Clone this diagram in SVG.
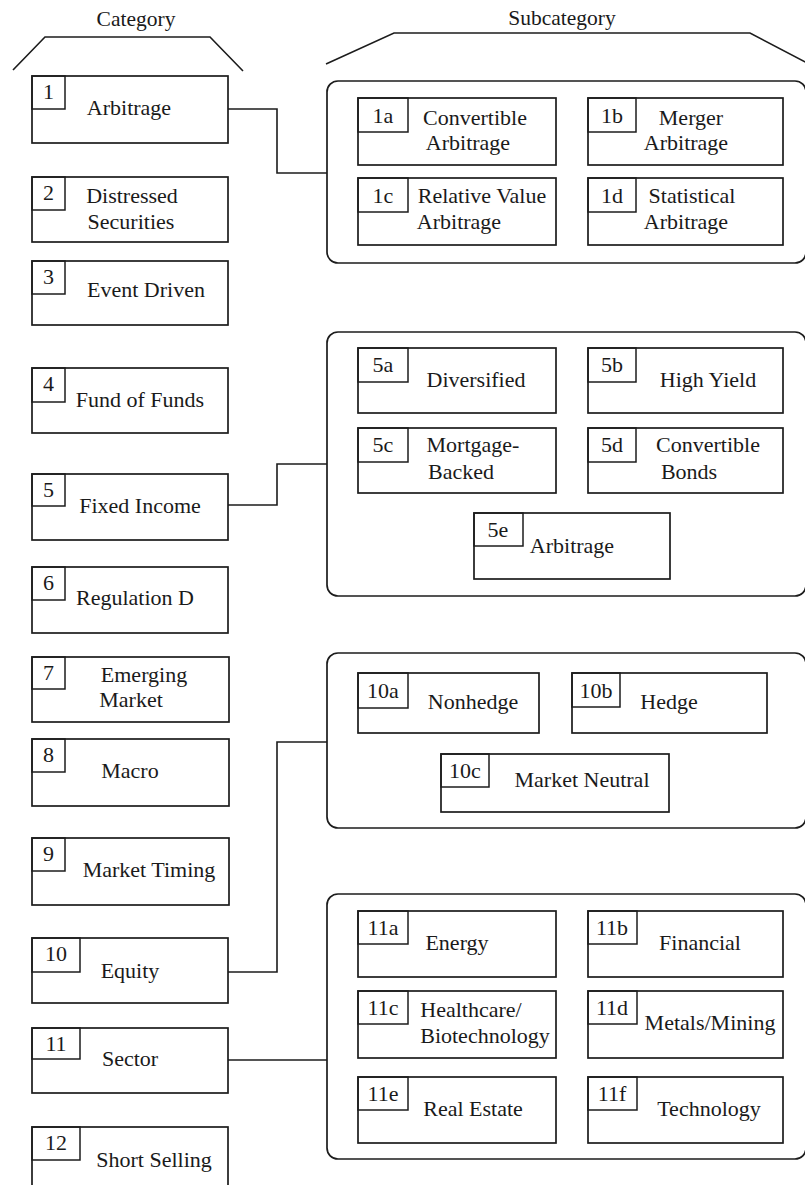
<svg xmlns="http://www.w3.org/2000/svg" width="805" height="1185" viewBox="0 0 805 1185">
<style>
.b{fill:#fff;stroke:#1c1c1c;stroke-width:1.7}
.n{fill:none;stroke:#1c1c1c;stroke-width:1.5}
.c{fill:#fff;stroke:#1c1c1c;stroke-width:1.7}
.w{fill:none;stroke:#1c1c1c;stroke-width:1.6}
text{font-family:"Liberation Serif","Times New Roman",serif;font-size:22px;fill:#1a1a1a;text-anchor:middle}
.h{font-size:21.5px}
</style>
<rect width="805" height="1185" fill="#fff"/>
<g id="headers">
<text class="h" x="136" y="26">Category</text>
<path class="w" d="M13,70 L45,37 L210,37 L243,71"/>
<text class="h" x="562" y="25">Subcategory</text>
<path class="w" d="M326,64 L394,33 L750,33 L807,63"/>
</g>
<g id="connectors">
<path class="w" d="M228,109 H277 V173 H327"/>
<path class="w" d="M228,505 H277 V464 H327"/>
<path class="w" d="M228,972 H277 V742 H327"/>
<path class="w" d="M228,1060 H327"/>
</g>
<g id="containers">
<rect id="group-1" class="c" x="327" y="81" width="479" height="182" rx="11"/>
<rect id="group-5" class="c" x="327" y="332" width="479" height="264" rx="11"/>
<rect id="group-10" class="c" x="327" y="653" width="479" height="175" rx="11"/>
<rect id="group-11" class="c" x="327" y="894" width="479" height="265" rx="11"/>
</g>
<g id="cat-1"><rect class="b" x="32" y="76" width="196" height="67"/><rect class="n" x="32" y="76" width="33" height="33"/><text x="48.5" y="99">1</text><text x="129" y="115">Arbitrage</text></g>
<g id="cat-2"><rect class="b" x="32" y="177" width="196" height="65"/><rect class="n" x="32" y="177" width="33" height="33"/><text x="48.5" y="200">2</text><text x="132" y="203">Distressed</text><text x="131" y="229">Securities</text></g>
<g id="cat-3"><rect class="b" x="32" y="261" width="196" height="64"/><rect class="n" x="32" y="261" width="33" height="33"/><text x="48.5" y="284">3</text><text x="146" y="297">Event Driven</text></g>
<g id="cat-4"><rect class="b" x="32" y="368" width="196" height="65"/><rect class="n" x="32" y="368" width="33" height="34"/><text x="48.5" y="391">4</text><text x="140" y="407">Fund of Funds</text></g>
<g id="cat-5"><rect class="b" x="32" y="474" width="196" height="66"/><rect class="n" x="32" y="474" width="33" height="32"/><text x="48.5" y="497">5</text><text x="140" y="513">Fixed Income</text></g>
<g id="cat-6"><rect class="b" x="32" y="567" width="196" height="66"/><rect class="n" x="32" y="567" width="33" height="33"/><text x="48.5" y="590">6</text><text x="135" y="605">Regulation D</text></g>
<g id="cat-7"><rect class="b" x="32" y="657" width="197" height="65"/><rect class="n" x="32" y="657" width="33" height="32"/><text x="48.5" y="680">7</text><text x="144" y="682">Emerging</text><text x="131" y="707">Market</text></g>
<g id="cat-8"><rect class="b" x="32" y="739" width="197" height="67"/><rect class="n" x="32" y="739" width="33" height="33"/><text x="48.5" y="762">8</text><text x="130" y="778">Macro</text></g>
<g id="cat-9"><rect class="b" x="32" y="838" width="197" height="67"/><rect class="n" x="32" y="838" width="33" height="33"/><text x="48.5" y="861">9</text><text x="149" y="877">Market Timing</text></g>
<g id="cat-10"><rect class="b" x="32" y="938" width="196" height="65"/><rect class="n" x="32" y="938" width="48" height="34"/><text x="56" y="961">10</text><text x="130" y="978">Equity</text></g>
<g id="cat-11"><rect class="b" x="32" y="1028" width="196" height="65"/><rect class="n" x="32" y="1028" width="48" height="31"/><text x="56" y="1051">11</text><text x="130" y="1066">Sector</text></g>
<g id="cat-12"><rect class="b" x="32" y="1127" width="196" height="70"/><rect class="n" x="32" y="1127" width="48" height="33"/><text x="56" y="1150">12</text><text x="154" y="1167">Short Selling</text></g>
<g id="sub-1a"><rect class="b" x="358" y="98" width="198" height="67"/><rect class="n" x="358" y="98" width="50" height="34"/><text x="383" y="123">1a</text><text x="475" y="125">Convertible</text><text x="468" y="150">Arbitrage</text></g>
<g id="sub-1b"><rect class="b" x="588" y="98" width="195" height="67"/><rect class="n" x="588" y="98" width="48" height="34"/><text x="612" y="123">1b</text><text x="691" y="125">Merger</text><text x="686" y="150">Arbitrage</text></g>
<g id="sub-1c"><rect class="b" x="358" y="178" width="198" height="67"/><rect class="n" x="358" y="178" width="50" height="34"/><text x="383" y="203">1c</text><text x="482" y="203">Relative Value</text><text x="459" y="229">Arbitrage</text></g>
<g id="sub-1d"><rect class="b" x="588" y="178" width="195" height="67"/><rect class="n" x="588" y="178" width="48" height="34"/><text x="612" y="203">1d</text><text x="692" y="203">Statistical</text><text x="686" y="229">Arbitrage</text></g>
<g id="sub-5a"><rect class="b" x="358" y="348" width="198" height="65"/><rect class="n" x="358" y="348" width="50" height="34"/><text x="383" y="372">5a</text><text x="476" y="387">Diversified</text></g>
<g id="sub-5b"><rect class="b" x="588" y="348" width="195" height="65"/><rect class="n" x="588" y="348" width="48" height="34"/><text x="612" y="372">5b</text><text x="708" y="387">High Yield</text></g>
<g id="sub-5c"><rect class="b" x="358" y="428" width="198" height="65"/><rect class="n" x="358" y="428" width="50" height="34"/><text x="383" y="452">5c</text><text x="473" y="452">Mortgage-</text><text x="461" y="479">Backed</text></g>
<g id="sub-5d"><rect class="b" x="588" y="428" width="195" height="65"/><rect class="n" x="588" y="428" width="48" height="34"/><text x="612" y="452">5d</text><text x="708" y="452">Convertible</text><text x="689" y="479">Bonds</text></g>
<g id="sub-5e"><rect class="b" x="474" y="513" width="196" height="66"/><rect class="n" x="474" y="513" width="49" height="33"/><text x="498" y="537">5e</text><text x="572" y="553">Arbitrage</text></g>
<g id="sub-10a"><rect class="b" x="358" y="673" width="181" height="60"/><rect class="n" x="358" y="673" width="50" height="35"/><text x="383" y="698">10a</text><text x="473" y="709">Nonhedge</text></g>
<g id="sub-10b"><rect class="b" x="572" y="673" width="195" height="60"/><rect class="n" x="572" y="673" width="48" height="34"/><text x="596" y="698">10b</text><text x="669" y="709">Hedge</text></g>
<g id="sub-10c"><rect class="b" x="441" y="754" width="228" height="58"/><rect class="n" x="441" y="754" width="48" height="33"/><text x="465" y="778">10c</text><text x="582" y="787">Market Neutral</text></g>
<g id="sub-11a"><rect class="b" x="358" y="911" width="198" height="66"/><rect class="n" x="358" y="911" width="50" height="33"/><text x="383" y="935">11a</text><text x="457" y="950">Energy</text></g>
<g id="sub-11b"><rect class="b" x="588" y="911" width="195" height="66"/><rect class="n" x="588" y="911" width="49" height="33"/><text x="612" y="935">11b</text><text x="700" y="950">Financial</text></g>
<g id="sub-11c"><rect class="b" x="358" y="991" width="198" height="67"/><rect class="n" x="358" y="991" width="50" height="33"/><text x="383" y="1015">11c</text><text x="471" y="1017">Healthcare/</text><text x="485" y="1043">Biotechnology</text></g>
<g id="sub-11d"><rect class="b" x="588" y="991" width="195" height="67"/><rect class="n" x="588" y="991" width="49" height="33"/><text x="612" y="1015">11d</text><text x="710" y="1030">Metals/Mining</text></g>
<g id="sub-11e"><rect class="b" x="358" y="1077" width="198" height="66"/><rect class="n" x="358" y="1077" width="50" height="33"/><text x="383" y="1101">11e</text><text x="473" y="1116">Real Estate</text></g>
<g id="sub-11f"><rect class="b" x="588" y="1077" width="195" height="66"/><rect class="n" x="588" y="1077" width="49" height="33"/><text x="612" y="1101">11f</text><text x="709" y="1116">Technology</text></g>
</svg>
